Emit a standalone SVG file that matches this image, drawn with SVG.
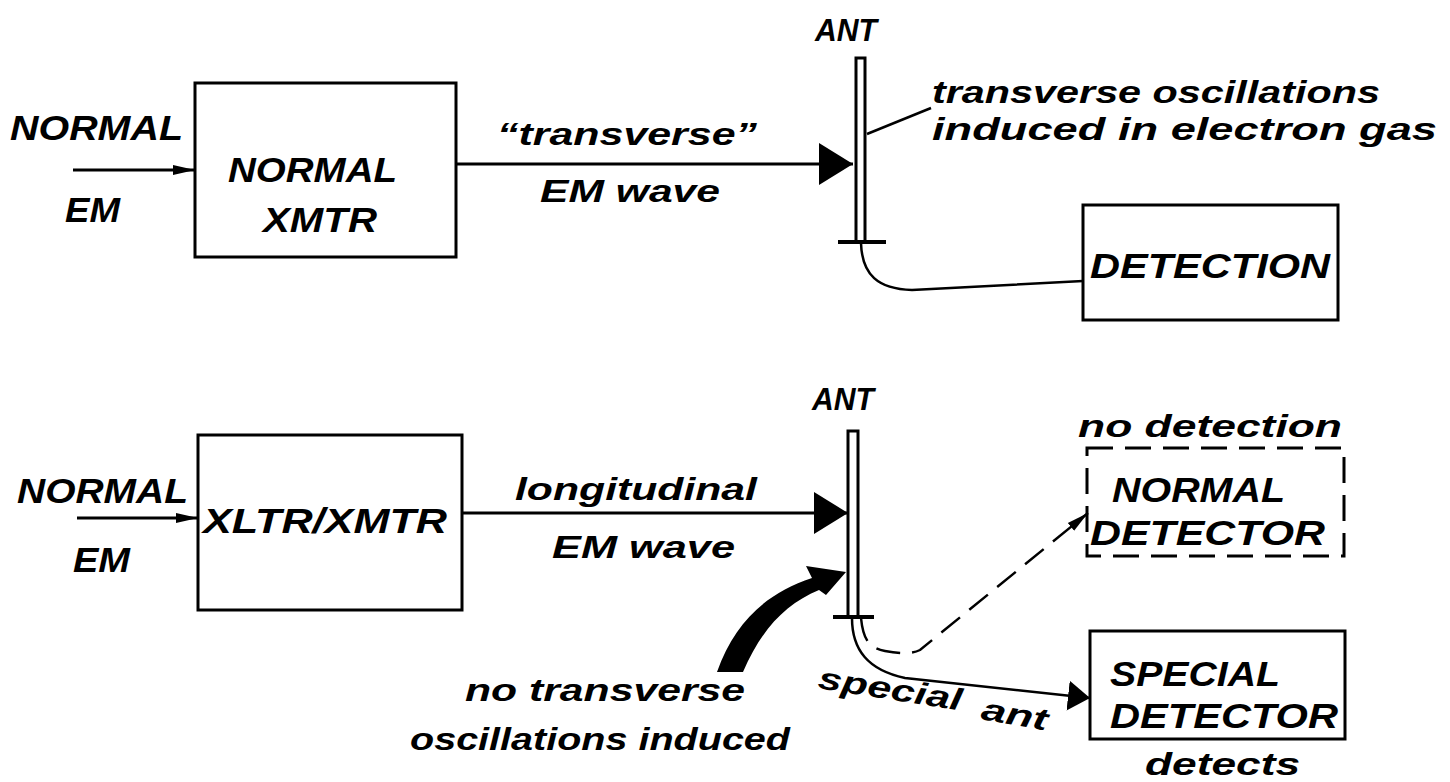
<svg xmlns="http://www.w3.org/2000/svg" width="1450" height="782" viewBox="0 0 1450 782">
<style>
.t{font-family:"Liberation Sans",Arial,sans-serif;font-weight:bold;font-style:italic;fill:#000}
.u{font-size:35px}
.a{font-size:31px}
.l{font-size:31px}
.box{fill:none;stroke:#000;stroke-width:3}
.ln{fill:none;stroke:#000;stroke-width:3}
.thin{fill:none;stroke:#000;stroke-width:2.5}
.dash{fill:none;stroke:#000;stroke-width:3;stroke-dasharray:26 12}
</style>
<defs>
<marker id="big" markerWidth="36" markerHeight="42" refX="34" refY="21" orient="auto" markerUnits="userSpaceOnUse"><path d="M0,0 L34,21 L0,42 Z" fill="#000"/></marker>
<marker id="small" markerWidth="24" markerHeight="12" refX="22" refY="6" orient="auto" markerUnits="userSpaceOnUse"><path d="M0,1 L22,6 L0,11 Z" fill="#000"/></marker>
<marker id="mid" markerWidth="24" markerHeight="30" refX="22" refY="15" orient="auto" markerUnits="userSpaceOnUse"><path d="M0,0 L22,15 L0,30 Z" fill="#000"/></marker>
</defs>

<g id="connectors">
  <line x1="73" y1="170" x2="195" y2="170" class="ln" marker-end="url(#small)"/>
  <line x1="456" y1="164" x2="853" y2="164" class="ln" marker-end="url(#big)"/>
  <path d="M861,243 C862,275 878,289 912,290 L1083,281" class="thin"/>
  <line x1="867" y1="134" x2="931" y2="108" class="thin"/>
  <line x1="77" y1="518" x2="198" y2="518" class="ln" marker-end="url(#small)"/>
  <line x1="462" y1="513" x2="848" y2="513" class="ln" marker-end="url(#big)"/>
  <path d="M852,618 C852,650 868,670 905,678 L1090,698" class="thin" marker-end="url(#mid)"/>
  <path d="M861,618 C863,638 868,648 885,651 C900,654 912,654 920,650 L1088,513" class="thin" stroke-dasharray="24 12" marker-end="url(#small)"/>
  <path d="M717,672 C735,622 765,594 812,578 L806,566 L846,572 L826,595 L819,590 C786,604 762,628 743,672 Z" fill="#000"/>
</g>

<g id="top-input">
  <text class="t u" x="10" y="140" textLength="173" lengthAdjust="spacingAndGlyphs">NORMAL</text>
  <text class="t u" x="65" y="222" textLength="55" lengthAdjust="spacingAndGlyphs">EM</text>
</g>
<g id="normal-xmtr">
  <rect x="195" y="83" width="261" height="174" class="box"/>
  <text class="t u" x="228" y="182" textLength="169" lengthAdjust="spacingAndGlyphs">NORMAL</text>
  <text class="t u" x="263" y="232" textLength="114" lengthAdjust="spacingAndGlyphs">XMTR</text>
</g>
<g id="top-wave-label">
  <text class="t l" x="497" y="145" textLength="260" lengthAdjust="spacingAndGlyphs">“transverse”</text>
  <text class="t l" x="540" y="202" textLength="180" lengthAdjust="spacingAndGlyphs">EM wave</text>
</g>
<g id="top-ant">
  <text class="t a" x="815" y="41" textLength="62" lengthAdjust="spacingAndGlyphs">ANT</text>
  <path d="M856,243 L856,58 L865,58 L865,243" fill="none" stroke="#000" stroke-width="3"/>
  <line x1="838" y1="242" x2="886" y2="242" stroke="#000" stroke-width="4"/>
  <text class="t l" x="932" y="103" textLength="448" lengthAdjust="spacingAndGlyphs">transverse oscillations</text>
  <text class="t l" x="932" y="140" textLength="505" lengthAdjust="spacingAndGlyphs">induced in electron gas</text>
</g>
<g id="detection">
  <rect x="1083" y="205" width="255" height="115" class="box"/>
  <text class="t u" x="1090" y="278" textLength="240" lengthAdjust="spacingAndGlyphs">DETECTION</text>
</g>

<g id="bottom-input">
  <text class="t u" x="17" y="503" textLength="171" lengthAdjust="spacingAndGlyphs">NORMAL</text>
  <text class="t u" x="73" y="572" textLength="57" lengthAdjust="spacingAndGlyphs">EM</text>
</g>
<g id="xltr-xmtr">
  <rect x="198" y="435" width="264" height="175" class="box"/>
  <text class="t u" x="203" y="533" textLength="244" lengthAdjust="spacingAndGlyphs">XLTR/XMTR</text>
</g>
<g id="bottom-wave-label">
  <text class="t l" x="515" y="500" textLength="242" lengthAdjust="spacingAndGlyphs">longitudinal</text>
  <text class="t l" x="552" y="558" textLength="183" lengthAdjust="spacingAndGlyphs">EM wave</text>
</g>
<g id="bottom-ant">
  <text class="t a" x="812" y="410" textLength="62" lengthAdjust="spacingAndGlyphs">ANT</text>
  <path d="M848,618 L848,431 L858,431 L858,618" fill="none" stroke="#000" stroke-width="3"/>
  <line x1="833" y1="617" x2="874" y2="617" stroke="#000" stroke-width="4"/>
  <text class="t l" x="817" y="688" textLength="145" lengthAdjust="spacingAndGlyphs" transform="rotate(9 817 688)">special</text>
  <text class="t l" x="980" y="719" textLength="67" lengthAdjust="spacingAndGlyphs" transform="rotate(10 980 719)">ant</text>
</g>
<g id="no-transverse">
  <text class="t l" x="465" y="701" textLength="280" lengthAdjust="spacingAndGlyphs">no transverse</text>
  <text class="t l" x="410" y="750" textLength="380" lengthAdjust="spacingAndGlyphs">oscillations induced</text>
</g>
<g id="normal-detector">
  <text class="t l" x="1078" y="437" textLength="264" lengthAdjust="spacingAndGlyphs">no detection</text>
  <rect x="1087" y="448" width="257" height="108" class="dash"/>
  <text class="t u" x="1112" y="502" textLength="173" lengthAdjust="spacingAndGlyphs">NORMAL</text>
  <text class="t u" x="1090" y="545" textLength="235" lengthAdjust="spacingAndGlyphs">DETECTOR</text>
</g>
<g id="special-detector">
  <rect x="1090" y="631" width="255" height="108" class="box"/>
  <text class="t u" x="1110" y="686" textLength="170" lengthAdjust="spacingAndGlyphs">SPECIAL</text>
  <text class="t u" x="1110" y="728" textLength="228" lengthAdjust="spacingAndGlyphs">DETECTOR</text>
  <text class="t l" x="1145" y="775" textLength="155" lengthAdjust="spacingAndGlyphs">detects</text>
</g>
</svg>
